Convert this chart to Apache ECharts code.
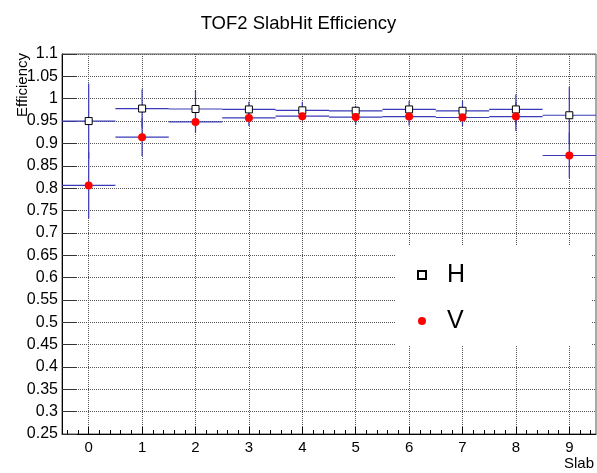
<!DOCTYPE html>
<html>
<head>
<meta charset="utf-8">
<script src="https://cdn.jsdelivr.net/npm/echarts@6/dist/echarts.min.js"></script>
<style>
html,body{margin:0;padding:0;background:#fff;}
#main{width:597px;height:473px;}
</style>
</head>
<body>
<div id="main"></div>
<script>
// ---- data ----
var slabs = [0, 1, 2, 3, 4, 5, 6, 7, 8, 9];
var hEff  = [0.950, 0.978, 0.977, 0.976, 0.974, 0.973, 0.976, 0.973, 0.976, 0.963];
var hErr  = [0.084, 0.043, 0.042, 0.017, 0.019, 0.011, 0.019, 0.022, 0.034, 0.064];
var vEff  = [0.806, 0.914, 0.948, 0.957, 0.961, 0.959, 0.960, 0.958, 0.960, 0.873];
var vErr  = [0.074, 0.042, 0.025, 0.018, 0.009, 0.018, 0.020, 0.019, 0.032, 0.051];
var binHalfWidth = 0.5;
var xMin = -0.5, xMax = 9.5;
var yMin = 0.25, yMax = 1.1, yStep = 0.05;

var FONT = 'Liberation Sans, Arial, Helvetica, sans-serif';

var majorX = slabs.slice();
var minorX = [];
for (var k = -2; k <= 47; k++) {
  var v = Math.round(k * 0.2 * 10) / 10;
  if (v > xMin && v < xMax && Math.abs(v - Math.round(v)) > 1e-6) minorX.push(v);
}

function errData(eff, err) {
  return slabs.map(function (s, i) { return [s, eff[i], err[i]]; });
}
function ptData(eff) {
  return slabs.map(function (s, i) { return [s, eff[i]]; });
}

var ERR_COLOR = '#3a3ab8';
function renderErr(params, api) {
  var x = api.value(0), y = api.value(1), e = api.value(2);
  var l = api.coord([x - binHalfWidth, y]);
  var r = api.coord([x + binHalfWidth, y]);
  var t = api.coord([x, y + e]);
  var b = api.coord([x, y - e]);
  var st = { stroke: ERR_COLOR, lineWidth: 1.2 };
  return {
    type: 'group',
    children: [
      { type: 'line', shape: { x1: l[0], y1: l[1], x2: r[0], y2: r[1] }, style: st },
      { type: 'line', shape: { x1: t[0], y1: t[1], x2: b[0], y2: b[1] }, style: st }
    ]
  };
}

var GRID_LINE = { color: '#555', type: [1, 1], width: 1 };

var chart = echarts.init(document.getElementById('main'), null, { renderer: 'canvas' });
chart.setOption({
  animation: false,
  backgroundColor: '#fff',
  textStyle: { fontFamily: FONT },
  title: {
    text: 'TOF2 SlabHit Efficiency',
    left: 'center',
    top: 9,
    textStyle: { fontFamily: FONT, fontSize: 18.5, fontWeight: 'normal', color: '#000' }
  },
  graphic: [{
    type: 'text',
    x: 23, y: 53,
    rotation: Math.PI / 2,
    style: {
      text: 'Efficiency',
      fontFamily: FONT, fontSize: 15, fill: '#000',
      align: 'right', verticalAlign: 'middle',
      textAlign: 'right', textVerticalAlign: 'middle'
    },
    z: 10
  }],
  grid: {
    left: 62, right: 1, top: 54, bottom: 39,
    show: true, borderColor: '#555', borderWidth: 1, backgroundColor: 'transparent'
  },
  legend: {
    data: ['H', 'V'],
    orient: 'vertical',
    left: 395, top: 246,
    padding: [14, 126, 9, 22],
    backgroundColor: '#fff',
    itemWidth: 8, itemHeight: 8,
    itemGap: 16,
    selectedMode: false,
    textStyle: { fontFamily: FONT, fontSize: 25, color: '#000', lineHeight: 30, padding: [0, 0, 0, 16] }
  },
  xAxis: [{
    type: 'value',
    min: xMin, max: xMax,
    name: 'Slab',
    nameLocation: 'end',
    nameGap: 0,
    nameTextStyle: { fontFamily: FONT, fontSize: 15, color: '#000', align: 'right', verticalAlign: 'top', padding: [22, 2, 0, 0] },
    axisLine: { show: true, onZero: false, lineStyle: { color: '#000', width: 1 } },
    axisTick: { show: true, inside: true, length: 7, customValues: majorX, lineStyle: { color: '#000' } },
    axisLabel: { show: true, customValues: majorX, margin: 6, fontFamily: FONT, fontSize: 15, color: '#000' },
    splitLine: { show: true, lineStyle: GRID_LINE }
  }, {
    type: 'value',
    min: xMin, max: xMax,
    position: 'bottom',
    axisLine: { show: false },
    axisTick: { show: true, inside: true, length: 4, customValues: minorX, lineStyle: { color: '#000' } },
    axisLabel: { show: false },
    splitLine: { show: false }
  }],
  yAxis: {
    type: 'value',
    min: yMin, max: yMax, interval: yStep,
    axisLine: { show: true, onZero: false, lineStyle: { color: '#000', width: 1 } },
    axisTick: { show: true, inside: true, length: 15, lineStyle: { color: '#333' } },
    axisLabel: { show: true, margin: 4, fontFamily: FONT, fontSize: 16, color: '#000' },
    splitLine: { show: true, lineStyle: GRID_LINE }
  },
  series: [
    { name: 'H err', type: 'custom', renderItem: renderErr, data: errData(hEff, hErr), z: 2, silent: true },
    { name: 'H', type: 'scatter', data: ptData(hEff), symbol: 'rect', symbolSize: 7,
      itemStyle: { color: '#fff', borderColor: '#000', borderWidth: 1, opacity: 1 }, z: 3 },
    { name: 'V err', type: 'custom', renderItem: renderErr, data: errData(vEff, vErr), z: 2, silent: true },
    { name: 'V', type: 'scatter', data: ptData(vEff), symbol: 'circle', symbolSize: 8,
      itemStyle: { color: '#ff0000', opacity: 1 }, z: 4 }
  ]
});
</script>
</body>
</html>
